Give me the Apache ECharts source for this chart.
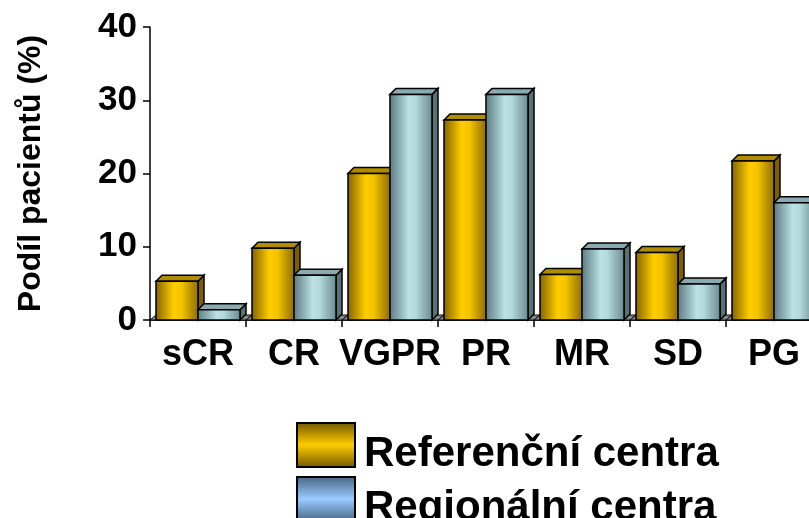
<!DOCTYPE html>
<html>
<head>
<meta charset="utf-8">
<script src="https://cdn.jsdelivr.net/npm/echarts@6/dist/echarts.min.js"></script>
<style>
  html, body { margin: 0; padding: 0; background: #fff; overflow: hidden; }
  /* the plot runs a little past the right edge of the window, as in the original */
  #chart { width: 822px; height: 518px; }
</style>
</head>
<body>
<div id="chart"></div>
<script>
// data
var categories = ['sCR', 'CR', 'VGPR', 'PR', 'MR', 'SD', 'PG']
var referencni = [5.3, 9.8, 20.0, 27.3, 6.2, 9.2, 21.7]
var regionalni = [1.4, 6.1, 30.8, 30.8, 9.7, 4.9, 16.0]
var yTicks = [0, 10, 20, 30, 40]

var FONT = '"Liberation Sans", Arial, sans-serif'
var G = echarts.graphic

// 3D-ish bar: front face + top + side, side = 'left' or 'right' of the category centre
function bar3d(side, front, top, right, withFloor) {
    return function (params, api) {
        var cat = api.value(0)
        var p = api.coord([cat, api.value(1)])
        var base = api.coord([cat, 0])
        var band = api.size([1, 0])[0]
        var w = band * 0.4375
        var d = 6
        var x0 = side === 'left' ? p[0] - w : p[0]
        var y0 = p[1]
        var h = base[1] - y0
        var stroke = { stroke: '#000', lineWidth: 1.5 }
        var kids = []
        if (withFloor) {
            var cl = base[0] - band / 2, cr = base[0] + band / 2
            kids.push({
                type: 'polygon',
                shape: { points: [[cl, base[1]], [cr, base[1]], [cr + d, base[1] - d + 1], [cl + d, base[1] - d + 1]] },
                style: { fill: '#8c8c8c', stroke: '#000', lineWidth: 1 }
            })
        }
        kids.push({
            type: 'polygon',
            shape: { points: [[x0 + w, y0], [x0 + w + d, y0 - d], [x0 + w + d, base[1] - d], [x0 + w, base[1]]] },
            style: Object.assign({ fill: right }, stroke)
        })
        kids.push({
            type: 'polygon',
            shape: { points: [[x0, y0], [x0 + d, y0 - d], [x0 + w + d, y0 - d], [x0 + w, y0]] },
            style: Object.assign({ fill: top }, stroke)
        })
        kids.push({
            type: 'rect',
            shape: { x: x0, y: y0, width: w, height: h },
            style: Object.assign({ fill: new G.LinearGradient(0, 0, 1, 0, front) }, stroke)
        })
        return { type: 'group', children: kids }
    }
}

var refFront = [
    { offset: 0, color: '#7e6200' },
    { offset: 0.42, color: '#ffcc00' },
    { offset: 0.6, color: '#f5c400' },
    { offset: 1, color: '#8a6c00' }
]
var regFront = [
    { offset: 0, color: '#5a7a80' },
    { offset: 0.45, color: '#bce2e6' },
    { offset: 0.6, color: '#b4dade' },
    { offset: 1, color: '#6a888c' }
]

// text sits low next to the swatch, so push it down with rich padding
var legendText = {
    fontFamily: FONT, fontWeight: 'bold', fontSize: 42, color: '#000',
    rich: { t: { fontFamily: FONT, fontWeight: 'bold', fontSize: 42, color: '#000', padding: [18, 0, 0, 4] } }
}
function legendItem(name, dark, light, top) {
    return {
        left: 291,
        top: top,
        itemWidth: 58,
        itemHeight: 44,
        icon: 'rect',
        textStyle: legendText,
        formatter: '{t|{name}}',
        data: [{
            name: name,
            itemStyle: {
                color: new G.LinearGradient(0, 0, 0, 1, [
                    { offset: 0, color: dark },
                    { offset: 0.5, color: light },
                    { offset: 1, color: dark }
                ]),
                borderColor: '#000', borderWidth: 2
            }
        }]
    }
}

var chart = echarts.init(document.getElementById('chart'))
chart.setOption({
    animation: false,
    backgroundColor: '#fff',
    grid: { left: 150, right: 0, top: 27, bottom: 198, containLabel: false },
    legend: [
        legendItem('Referenční centra', '#6e5600', '#ffcc00', 417),
        legendItem('Regionální centra', '#46627e', '#99ccff', 471)
    ],
    xAxis: {
        type: 'category',
        data: categories,
        axisLine: { lineStyle: { color: '#000', width: 1.5 } },
        axisTick: { show: true, length: 7, alignWithLabel: false, lineStyle: { color: '#000', width: 1.5 } },
        axisLabel: { fontFamily: FONT, fontWeight: 'bold', fontSize: 36, color: '#000', margin: 17, interval: 0 }
    },
    yAxis: {
        type: 'value',
        min: yTicks[0],
        max: yTicks[yTicks.length - 1],
        interval: 10,
        name: 'Podíl pacientů (%)',
        nameLocation: 'middle',
        nameRotate: 90,
        nameGap: 103,
        nameTextStyle: { fontFamily: FONT, fontWeight: 'bold', fontSize: 32, color: '#000' },
        splitLine: { show: false },
        axisLine: { show: true, lineStyle: { color: '#000', width: 1.5 } },
        axisTick: { show: true, length: 7, lineStyle: { color: '#000', width: 1.5 } },
        axisLabel: { fontFamily: FONT, fontWeight: 'bold', fontSize: 35, color: '#000', margin: 13 }
    },
    series: [
        {
            name: 'Referenční centra',
            type: 'custom',
            renderItem: bar3d('left', refFront, '#b08c00', '#7a5e00', true),
            encode: { x: 0, y: 1 },
            itemStyle: { color: '#ffcc00' },
            data: referencni.map(function (v, i) { return [i, v] }),
            z: 2
        },
        {
            name: 'Regionální centra',
            type: 'custom',
            renderItem: bar3d('right', regFront, '#88aab0', '#587276', false),
            encode: { x: 0, y: 1 },
            itemStyle: { color: '#99ccff' },
            data: regionalni.map(function (v, i) { return [i, v] }),
            z: 3
        }
    ]
})
</script>
</body>
</html>
